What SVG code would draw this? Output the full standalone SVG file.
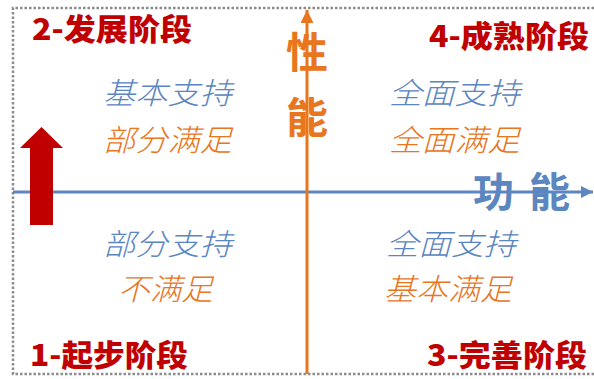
<svg xmlns="http://www.w3.org/2000/svg" width="594" height="379" viewBox="0 0 594 379">
<style>
.stage{font-family:"Noto Sans CJK SC","Liberation Sans",sans-serif;font-weight:900;font-size:30px;fill:#c00000}
.it{font-family:"Noto Sans CJK SC",sans-serif;font-style:italic;font-weight:300;font-size:30px}
.blue{fill:#5b86bf}
.orange{fill:#e8761e}
.axisl{font-family:"Noto Sans CJK SC",sans-serif;font-weight:bold}
</style>
<defs>
<marker id="ha" viewBox="0 0 10 10" refX="10" refY="5" markerWidth="4" markerHeight="4" orient="auto" markerUnits="strokeWidth"><path d="M0,0 L10,5 L0,10 z" fill="#5b86bf"/></marker>
<marker id="va" viewBox="0 0 10 10" refX="10" refY="5" markerWidth="4.3" markerHeight="4.3" orient="auto" markerUnits="strokeWidth"><path d="M0,0 L10,5 L0,10 z" fill="#e8761e"/></marker>
</defs>
<rect width="594" height="379" fill="#fff"/>
<path id="frame" d="M594,8 H13 V374 H594" fill="none" stroke="#8c8c8c" stroke-width="2.5" stroke-dasharray="2.5 2"/>
<g id="connectors">
<line x1="13" y1="192" x2="593" y2="192" stroke="#5b86bf" stroke-width="3" marker-end="url(#ha)"/>
<line x1="307" y1="374" x2="307" y2="10" stroke="#e8761e" stroke-width="3" marker-end="url(#va)"/>
<polygon id="up-arrow" points="30,225 53,225 53,148 63,148 41.5,127 20,148 30,148" fill="#c00000"/>
</g>
<g id="stage2"><text class="stage" x="32" y="40" textLength="160" lengthAdjust="spacingAndGlyphs">2-发展阶段</text></g>
<g id="stage4"><text class="stage" x="429" y="47" textLength="160" lengthAdjust="spacingAndGlyphs">4-成熟阶段</text></g>
<g id="stage1"><text class="stage" x="30" y="366" textLength="158" lengthAdjust="spacingAndGlyphs">1-起步阶段</text></g>
<g id="stage3"><text class="stage" x="427" y="366" textLength="160" lengthAdjust="spacingAndGlyphs">3-完善阶段</text></g>
<g id="perf-label" class="axisl" font-size="42" fill="#e8761e" text-anchor="middle">
<text x="307" y="68">性</text>
<text x="307" y="133">能</text>
</g>
<g id="func-label"><text class="axisl" x="473" y="207" font-size="41" fill="#5b86bf" textLength="97" lengthAdjust="spacing">功 能</text></g>
<g id="q2">
<text class="it blue" x="103" y="104" textLength="129" lengthAdjust="spacingAndGlyphs">基本支持</text>
<text class="it orange" x="103" y="151" textLength="129" lengthAdjust="spacingAndGlyphs">部分满足</text>
</g>
<g id="q4">
<text class="it blue" x="389" y="104" textLength="131" lengthAdjust="spacingAndGlyphs">全面支持</text>
<text class="it orange" x="389" y="151" textLength="131" lengthAdjust="spacingAndGlyphs">全面满足</text>
</g>
<g id="q1">
<text class="it blue" x="103" y="255" textLength="129" lengthAdjust="spacingAndGlyphs">部分支持</text>
<text class="it orange" x="118" y="300" textLength="95" lengthAdjust="spacingAndGlyphs">不满足</text>
</g>
<g id="q3">
<text class="it blue" x="386" y="255" textLength="130" lengthAdjust="spacingAndGlyphs">全面支持</text>
<text class="it orange" x="384" y="300" textLength="128" lengthAdjust="spacingAndGlyphs">基本满足</text>
</g>
</svg>
